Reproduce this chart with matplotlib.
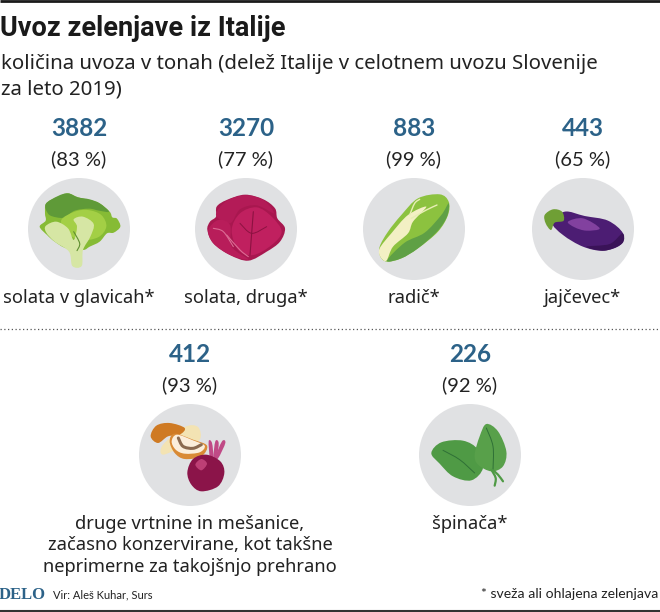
import matplotlib
matplotlib.use("Agg")
import matplotlib.pyplot as plt
from matplotlib.patches import Circle, PathPatch
from matplotlib.path import Path
import numpy as np

# ---- data
items_row1 = ["solata v glavicah*", "solata, druga*", "radič*", "jajčevec*"]
tons_row1 = [3882, 3270, 883, 443]
share_row1 = [83, 77, 99, 65]
items_row2 = ["druge vrtnine in mešanice,\nzačasno konzervirane, kot takšne\nneprimerne za takojšnjo prehrano", "špinača*"]
tons_row2 = [412, 226]
share_row2 = [93, 92]
title = "Uvoz zelenjave iz Italije"
subtitle_lines = ["količina uvoza v tonah (delež Italije v celotnem uvozu Slovenije", "za leto 2019)"]
source = "Vir: Aleš Kuhar, Surs"
note = "* sveža ali ohlajena zelenjava"

# ---- layout
W, H = 660, 612
BLUE = "#2c6288"
TXT = "#222222"
GREY = "#e0e1e3"
R = 51
NARROW = ["Lato", "DejaVu Sans"]
BODY = ["Noto Sans", "DejaVu Sans"]
centers1 = [(79, 229), (246, 229), (414, 229), (583, 229)]
centers2 = [(190, 455), (470, 455)]

fig = plt.figure(figsize=(W / 100, H / 100), dpi=100, facecolor="white")
ax = fig.add_axes([0, 0, 1, 1])
ax.set_xlim(0, W)
ax.set_ylim(H, 0)
ax.axis("off")


def smooth(pts, closed=True):
    p = np.asarray(pts, float)
    n = len(p)
    verts, codes = [p[0]], [Path.MOVETO]
    rng = range(n) if closed else range(n - 1)
    for i in rng:
        p0, p1, p2, p3 = p[(i - 1) % n], p[i], p[(i + 1) % n], p[(i + 2) % n]
        if not closed:
            p0 = p[max(i - 1, 0)]
            p3 = p[min(i + 2, n - 1)]
        verts += [p1 + (p2 - p0) / 6, p2 - (p3 - p1) / 6, p2]
        codes += [Path.CURVE4] * 3
    return Path(verts, codes)


def blob(c, org, pts, color, z=3):
    """pts are sketch coordinates at 3x scale, relative to org = circle centre."""
    q = [(c[0] + (x - org[0]) / 3, c[1] + (y - org[1]) / 3) for x, y in pts]
    ax.add_patch(PathPatch(smooth(q), fc=color, ec="none", zorder=z))


def stroke(c, org, pts, color, lw=1.0, z=4):
    q = [(c[0] + (x - org[0]) / 3, c[1] + (y - org[1]) / 3) for x, y in pts]
    ax.add_patch(PathPatch(smooth(q, closed=False), fc="none", ec=color, lw=lw, zorder=z, capstyle="round"))


def lettuce(c):
    o = (238, 387)
    blob(c, o, [(120, 380), (138, 362), (136, 340), (140, 310), (175, 290), (205, 280), (235, 292), (270, 300), (300, 310), (330, 335), (338, 352), (352, 356), (362, 380), (342, 398), (322, 400), (300, 425), (270, 440), (250, 450), (200, 445), (165, 425), (142, 405)], "#86bb35")
    blob(c, o, [(138, 312), (175, 288), (205, 280), (235, 292), (270, 298), (300, 310), (328, 335), (298, 332), (268, 326), (225, 332), (195, 352), (170, 352), (146, 342)], "#5f9a38", 4)
    blob(c, o, [(185, 360), (225, 335), (265, 330), (305, 345), (320, 380), (295, 412), (240, 420), (200, 395)], "#a3cf45", 4)
    blob(c, o, [(138, 378), (170, 365), (205, 385), (222, 420), (232, 380), (222, 358), (250, 350), (282, 372), (272, 410), (250, 450), (246, 498), (218, 498), (208, 455), (165, 425), (140, 398)], "#d6e6a4", 5)
    stroke(c, o, [(222, 395), (240, 430), (232, 452)], "#5f8f30", 0.8, 6)


def red_lettuce(c):
    o = (738, 387)
    blob(c, o, [(622, 390), (630, 365), (648, 350), (650, 320), (680, 300), (735, 284), (790, 298), (825, 325), (832, 355), (855, 385), (840, 425), (800, 455), (745, 482), (690, 465), (640, 430)], "#a8174f")
    blob(c, o, [(695, 390), (720, 340), (770, 322), (815, 350), (845, 395), (815, 435), (760, 465), (715, 450)], "#c0205f", 4)
    blob(c, o, [(648, 345), (680, 303), (735, 286), (790, 300), (822, 340), (770, 316), (720, 328), (690, 370)], "#b31b57", 4)
    blob(c, o, [(625, 390), (655, 360), (690, 375), (695, 440), (745, 478), (690, 465), (640, 430)], "#b81d5a", 4)
    stroke(c, o, [(760, 335), (755, 400), (750, 465)], "#8c1241", 0.8, 5)
    stroke(c, o, [(720, 370), (755, 400), (800, 380)], "#8c1241", 0.7, 5)
    stroke(c, o, [(640, 385), (670, 395), (700, 440)], "#dc6c94", 0.8, 5)
    stroke(c, o, [(680, 405), (720, 450), (745, 470)], "#dc6c94", 0.8, 5)


def chicory(c):
    o = (253, 387)
    blob(c, o, [(150, 440), (175, 395), (215, 345), (265, 295), (330, 283), (357, 305), (355, 345), (325, 395), (265, 445), (215, 475), (172, 485), (152, 470)], "#8cc23f")
    blob(c, o, [(172, 482), (225, 428), (285, 398), (335, 345), (357, 310), (352, 350), (322, 395), (265, 445), (215, 475)], "#5fa045", 4)
    blob(c, o, [(150, 445), (185, 400), (235, 345), (290, 320), (250, 365), (235, 400), (190, 440), (170, 482), (152, 470)], "#f3f0c4", 5)
    stroke(c, o, [(240, 345), (255, 310), (270, 298)], "#e8eeb5", 1.0, 6)
    stroke(c, o, [(245, 355), (290, 330), (322, 315)], "#e8eeb5", 1.0, 6)


def eggplant(c):
    o = (760, 387)
    blob(c, o, [(668, 368), (705, 335), (765, 348), (835, 362), (880, 400), (872, 435), (820, 452), (760, 440), (700, 405)], "#4c1d73")
    blob(c, o, [(715, 365), (760, 355), (810, 385), (770, 392), (735, 382)], "#82419f", 4)
    blob(c, o, [(770, 440), (840, 432), (878, 400), (878, 430), (825, 452)], "#3a1358", 4)
    blob(c, o, [(645, 345), (670, 328), (697, 335), (702, 362), (675, 368), (664, 390), (648, 370)], "#6f9f35", 5)


def beet_mushroom(c):
    o = (271, 346)
    blob(c, o, [(255, 262), (295, 262), (300, 300), (250, 320), (190, 345), (190, 315)], "#f3e3b3", 3)
    blob(c, o, [(153, 290), (170, 258), (210, 250), (255, 265), (240, 285), (205, 290), (175, 310)], "#cf7a23", 4)
    blob(c, o, [(210, 305), (225, 282), (280, 300), (322, 318), (305, 350), (255, 358), (225, 340)], "#d98a35", 4)
    blob(c, o, [(216, 305), (232, 285), (280, 302), (315, 318), (300, 338), (255, 342), (228, 330)], "#fbeedb", 5)
    stroke(c, o, [(236, 295), (250, 320), (280, 326), (305, 315)], "#8a6a50", 2.2, 6)
    for x0, x1 in [(335, 332), (345, 352), (350, 372)]:
        blob(c, o, [(x0 - 4, 355), (x1 - 5, 305), (x1 + 5, 310), (x0 + 6, 355)], "#c04a86", 4)
    blob(c, o, [(263, 398), (280, 358), (320, 345), (362, 365), (374, 400), (355, 440), (305, 455), (275, 435)], "#8b1449", 5)
    blob(c, o, [(287, 375), (305, 358), (322, 372), (305, 392)], "#bd3f75", 6)


def spinach(c):
    o = (1111, 346)
    blob(c, o, [(995, 340), (1025, 308), (1090, 303), (1135, 330), (1150, 385), (1115, 422), (1060, 410), (1020, 372)], "#4f9a45")
    blob(c, o, [(1125, 345), (1140, 290), (1160, 253), (1195, 275), (1220, 335), (1210, 380), (1175, 395), (1135, 375)], "#58a04a", 4)
    stroke(c, o, [(1030, 332), (1080, 360), (1125, 400)], "#2f7036", 0.7, 5)
    stroke(c, o, [(1160, 265), (1180, 320), (1180, 390)], "#2f7036", 0.7, 5)
    stroke(c, o, [(1175, 390), (1188, 415), (1185, 438)], "#4f9a45", 1.6, 5)
    stroke(c, o, [(1180, 392), (1195, 405), (1210, 425)], "#4f9a45", 1.6, 5)


# rules
ax.plot([0, W], [0.8, 0.8], color="#1a1a1a", lw=2.0, solid_capstyle="butt")
ax.plot([0, W], [610.5, 610.5], color="#333333", lw=1.5, solid_capstyle="butt")
ax.plot([0, W], [329, 329], color="#555555", lw=0.9, ls=(0, (1, 2)))

# header
ax.text(0, 28, title, fontsize=19.5, fontweight="bold", family=["Roboto", "DejaVu Sans"], color="#1a1a1a", ha="left", va="center")
for line, y in zip(subtitle_lines, [64, 90]):
    ax.text(1, y, line, fontsize=14.7, family=BODY, color=TXT, ha="left", va="center")


def card(c, ton, share, label, icon, y_label_top):
    cx, cy = c
    ax.text(cx, cy - 100, str(ton), fontsize=17.5, fontweight="bold", family=NARROW, color=BLUE, ha="center", va="center")
    ax.text(cx, cy - 70, f"({share} %)", fontsize=14.5, family=NARROW, color=TXT, ha="center", va="center")
    ax.add_patch(Circle(c, R, fc=GREY, ec="none", zorder=2))
    icon(c)
    ax.text(cx, y_label_top, label, fontsize=13.2, family=BODY, color=TXT, ha="center", va="top", linespacing=1.25)


for c, t, s, l, ic in zip(centers1, tons_row1, share_row1, items_row1, [lettuce, red_lettuce, chicory, eggplant]):
    card(c, t, s, l, ic, 289)
for c, t, s, l, ic in zip(centers2, tons_row2, share_row2, items_row2, [beet_mushroom, spinach]):
    card(c, t, s, l, ic, 515)

# footer
ax.text(-1, 595, "DELO", fontsize=12, fontweight="bold", family=["Liberation Serif", "DejaVu Serif"], color=BLUE, ha="left", va="center")
ax.text(53, 595, source, fontsize=8, family=NARROW, color=TXT, ha="left", va="center")
ax.text(658, 594, note, fontsize=10.1, family=NARROW, color=TXT, ha="right", va="center")

fig.savefig("out.png", dpi=100, facecolor="white")
